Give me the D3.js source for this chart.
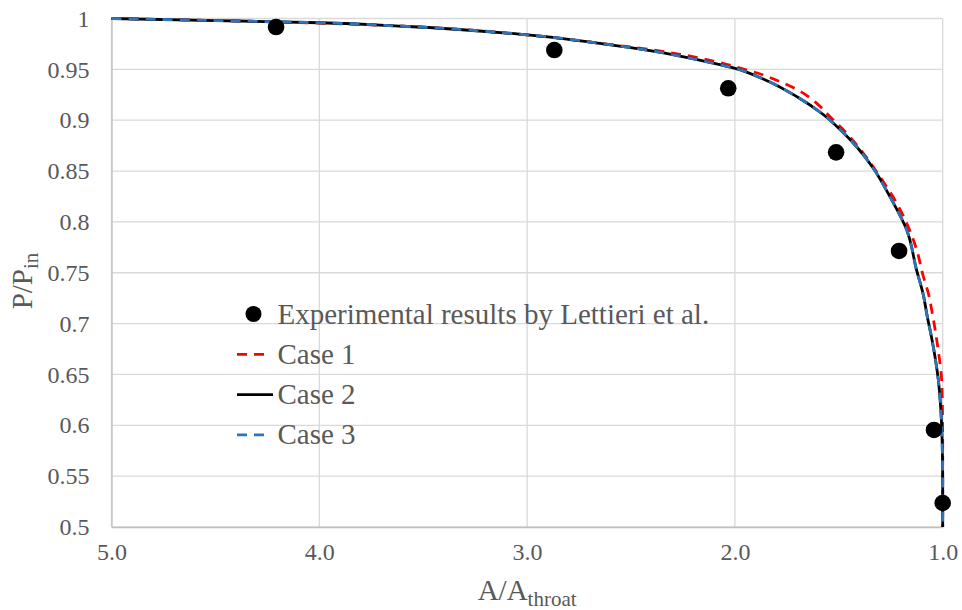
<!DOCTYPE html>
<html>
<head>
<meta charset="utf-8">
<script src="https://cdn.jsdelivr.net/npm/d3@7"></script>
<style>
  body { margin: 0; background: #fff; }
  svg text { font-family: "Liberation Serif", "Times New Roman", serif; fill: #595959; }
</style>
</head>
<body>
<svg id="chart"></svg>
<script>
// experimental points (Lettieri et al.)
var expX = [4.208, 2.869, 2.032, 1.513, 1.210, 1.042, 1.0];
var expY = [0.9916, 0.969, 0.9314, 0.8684, 0.7714, 0.5954, 0.5236];

// Case 1 (red dashed)
var case1X = [5.0, 4.5, 4.0, 3.6, 3.0, 2.65, 2.4, 2.264, 2.104, 1.998, 1.863, 1.783, 1.703, 1.606, 1.542, 1.462, 1.382, 1.302, 1.221, 1.173, 1.125, 1.093, 1.069, 1.050, 1.024, 1.005, 1.001, 1.0, 1.0];
var case1Y = [1.0, 0.998, 0.9955, 0.9924, 0.9838, 0.9756, 0.9692, 0.9648, 0.9582, 0.9526, 0.9444, 0.9379, 0.9304, 0.9166, 0.9034, 0.8871, 0.8675, 0.8444, 0.8183, 0.7986, 0.7724, 0.7461, 0.7298, 0.7101, 0.6773, 0.6445, 0.6118, 0.58, 0.5];

// Case 2 (black solid) and Case 3 (blue dashed)
var case2X = [5.0, 4.5, 4.0, 3.6, 3.0, 2.65, 2.409, 2.264, 2.105, 1.999, 1.864, 1.701, 1.575, 1.494, 1.414, 1.334, 1.254, 1.173, 1.125, 1.093, 1.077, 1.045, 1.021, 1.008, 1.002, 1.0, 1.0];
var case2Y = [1.0, 0.998, 0.9958, 0.9924, 0.984, 0.9756, 0.9685, 0.9631, 0.9562, 0.951, 0.9405, 0.9231, 0.9056, 0.8909, 0.8739, 0.8527, 0.8248, 0.792, 0.752, 0.728, 0.710, 0.677, 0.6445, 0.6118, 0.579, 0.546, 0.5];
var case3X = [5.0, 4.5, 4.0, 3.6, 3.0, 2.65, 2.409, 2.264, 2.105, 1.999, 1.864, 1.701, 1.575, 1.494, 1.414, 1.334, 1.254, 1.173, 1.125, 1.093, 1.077, 1.045, 1.021, 1.008, 1.002, 1.0, 1.0];
var case3Y = [1.0, 0.998, 0.9958, 0.9924, 0.984, 0.9756, 0.9685, 0.9631, 0.9562, 0.951, 0.9405, 0.9231, 0.9056, 0.8909, 0.8739, 0.8527, 0.8248, 0.792, 0.752, 0.728, 0.710, 0.677, 0.6445, 0.6118, 0.579, 0.546, 0.5];

var xTicks = [5, 4, 3, 2, 1];
var yTicks = [0.5, 0.55, 0.6, 0.65, 0.7, 0.75, 0.8, 0.85, 0.9, 0.95, 1];
var legendLabels = ["Experimental results by Lettieri et al.", "Case 1", "Case 2", "Case 3"];

var width = 962, height = 610;
var margin = {top: 18.5, right: 19.3, bottom: 83, left: 111.5};
var serif = '"Liberation Serif", "Times New Roman", serif';

var svg = d3.select('#chart')
    .attr('width', width)
    .attr('height', height);

var x = d3.scaleLinear().domain([5, 1]).range([margin.left, width - margin.right]);
var y = d3.scaleLinear().domain([0.5, 1]).range([height - margin.bottom, margin.top]);

// gridlines
svg.append('g').selectAll('line.h')
  .data(yTicks)
  .enter().append('line')
  .attr('x1', x(5)).attr('x2', x(1))
  .attr('y1', function(d) { return y(d); })
  .attr('y2', function(d) { return y(d); })
  .attr('stroke', '#d9d9d9')
  .attr('stroke-width', 1.3);

svg.append('g').selectAll('line.v')
  .data(xTicks)
  .enter().append('line')
  .attr('y1', y(0.5)).attr('y2', y(1))
  .attr('x1', function(d) { return x(d); })
  .attr('x2', function(d) { return x(d); })
  .attr('stroke', '#d9d9d9')
  .attr('stroke-width', 1.3);

// axes
var xAxis = svg.append('g')
  .attr('transform', 'translate(0,' + y(0.5) + ')')
  .call(d3.axisBottom(x).tickValues(xTicks).tickSize(0).tickPadding(22).tickFormat(d3.format('.1f')));
var yAxis = svg.append('g')
  .attr('transform', 'translate(' + x(5) + ',0)')
  .call(d3.axisLeft(y).tickValues(yTicks).tickSize(0).tickPadding(22).tickFormat(function(d) { return String(+d.toFixed(2)); }));

[xAxis, yAxis].forEach(function(a) {
  a.attr('font-family', serif).attr('font-size', 24);
  a.select('.domain').attr('stroke', '#bfbfbf').attr('stroke-width', 1.3);
  a.selectAll('text').attr('font-size', 24).attr('fill', '#595959')
    .style('font-family', serif);
});
xAxis.selectAll('text').attr('dy', '0.45em');

// axis titles
var xt = svg.append('text')
  .attr('x', (x(5) + x(1)) / 2)
  .attr('y', 600)
  .attr('text-anchor', 'middle')
  .attr('font-size', 29);
xt.append('tspan').text('A/A');
xt.append('tspan').attr('font-size', 21).attr('dy', 6).text('throat');

var yt = svg.append('text')
  .attr('transform', 'translate(32,281) rotate(-90)')
  .attr('text-anchor', 'middle')
  .attr('font-size', 29);
yt.append('tspan').text('P/P');
yt.append('tspan').attr('font-size', 21).attr('dy', 6).text('in');

// curves
var line = d3.line()
  .x(function(d) { return x(d[0]); })
  .y(function(d) { return y(d[1]); })
  .curve(d3.curveMonotoneY);

var series = [
  {xs: case1X, ys: case1Y, color: '#ff0000', dash: '10,7'},
  {xs: case2X, ys: case2Y, color: '#000000', dash: null},
  {xs: case3X, ys: case3Y, color: '#2e75b6', dash: '10,7'}
];

series.forEach(function(s) {
  var pts = d3.zip(s.xs, s.ys);
  svg.append('path')
    .attr('d', line(pts))
    .attr('fill', 'none')
    .attr('stroke', s.color)
    .attr('stroke-width', 2.8)
    .attr('stroke-dasharray', s.dash);
});

// experimental markers
svg.append('g').selectAll('circle')
  .data(d3.zip(expX, expY))
  .enter().append('circle')
  .attr('cx', function(d) { return x(d[0]); })
  .attr('cy', function(d) { return y(d[1]); })
  .attr('r', 8.3)
  .attr('fill', '#000');

// legend
var lg = svg.append('g').attr('transform', 'translate(237,314)');
var rowH = 40.3;
var items = lg.selectAll('g')
  .data(legendLabels)
  .enter().append('g')
  .attr('transform', function(d, i) { return 'translate(0,' + (i * rowH) + ')'; });

items.each(function(d, i) {
  var g = d3.select(this);
  if (i === 0) {
    g.append('circle').attr('cx', 16.5).attr('cy', 0).attr('r', 8).attr('fill', '#000');
  } else {
    var s = series[i - 1];
    g.append('line')
      .attr('x1', 0).attr('x2', i === 2 ? 36 : 28)
      .attr('y1', 0).attr('y2', 0)
      .attr('stroke', s.color)
      .attr('stroke-width', 2.8)
      .attr('stroke-dasharray', s.dash);
  }
  g.append('text')
    .attr('x', 40.5)
    .attr('y', 9.5)
    .attr('font-size', 29)
    .text(d);
});
</script>
</body>
</html>
